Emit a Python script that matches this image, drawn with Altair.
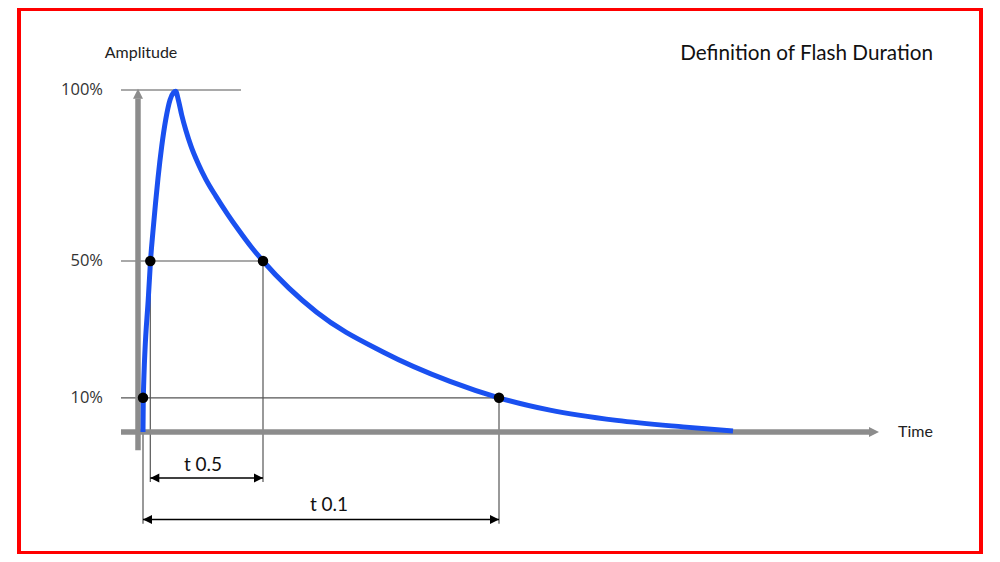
import altair as alt
import pandas as pd

# ---------------- data (time in arbitrary units, amplitude in %) ----------------
curve_t = [0, 0.3, 5.5, 7.5, 10, 12.5, 15, 18.7, 22.7, 27, 30.5, 32.7,
           35.5, 38.7, 43, 48, 55, 63, 73, 84.3, 96, 107.7, 120,
           173.7, 240, 307, 356, 407, 473.7, 540, 590]
curve_a = [0, 10, 40, 50, 58.8, 66.8, 74.2, 83.5, 91.3, 97.1, 99.2, 99.6,
           96.9, 92.7, 88.1, 83.6, 78.6, 73.8, 68.9, 63.8, 58.9, 54.3, 50,
           35.0, 23.4, 14.8, 10, 6.4, 3.4, 1.5, 0.3]

# marked points: rise 10%, rise 50%, fall 50%, fall 10%
dot_t = [0, 7.3, 120, 356]
dot_a = [10, 50, 50, 10]

level_values = [100, 50, 10]
level_labels = ["100%", "50%", "10%"]
level_end_t = [98, 120, 356]

dim_labels = ["t 0.5", "t 0.1"]
dim_start = [7.3, 0]
dim_end = [120, 356]
dim_level = [-13.45, -25.6]
dim_label_t = [60, 186]
dim_label_a = [-9.6, -21.3]

title_text = "Definition of Flash Duration"
y_title = "Amplitude"
x_title = "Time"

# ---------------- scales ----------------
X = alt.Scale(domain=[-135, 849], nice=False, zero=False)
Y = alt.Scale(domain=[-35.672, 123.977], nice=False, zero=False)
FONT = "Lato"
GRAY = "#8c8c8c"
THIN = "#555555"

def xe(f):
    return alt.X(f, type="quantitative", scale=X, axis=None)

def ye(f):
    return alt.Y(f, type="quantitative", scale=Y, axis=None)

# frame
frame = alt.Chart(pd.DataFrame({"k": [0]})).mark_rect(
    fill="white", stroke="#ff0000", strokeWidth=4
).encode(x=alt.value(11), x2=alt.value(973), y=alt.value(1), y2=alt.value(545))

# gray axes (shafts)
axes_df = pd.DataFrame({
    "x1": [-5, -22], "x2": [-5, 727],
    "y1": [-5.3, 0], "y2": [97.5, 0],
})
axes = alt.Chart(axes_df).mark_rule(color=GRAY, strokeWidth=5.5, strokeCap="butt").encode(
    x=xe("x1"), x2="x2", y=ye("y1"), y2="y2")

# gray arrow heads
up_head = alt.Chart(pd.DataFrame({"t": [-5], "a": [100.4]})).mark_point(
    shape="M0,0L-1,2L1,2Z", filled=True, color=GRAY, size=100, opacity=1, strokeWidth=0
).encode(x=xe("t"), y=ye("a"))
right_head = alt.Chart(pd.DataFrame({"t": [736], "a": [0]})).mark_point(
    shape="M0,0L-2,-1L-2,1Z", filled=True, color=GRAY, size=100, opacity=1, strokeWidth=0
).encode(x=xe("t"), y=ye("a"))

# thin reference lines
ref_rows = []
for lv, te in zip(level_values, level_end_t):
    ref_rows.append({"x1": -22, "x2": te, "y1": lv, "y2": lv})
for ts, te, lv in zip(dim_start, dim_end, dim_level):
    top_s = dot_a[dot_t.index(ts)]
    top_e = dot_a[dot_t.index(te)]
    ref_rows.append({"x1": ts, "x2": ts, "y1": top_s, "y2": lv - 1.2})
    ref_rows.append({"x1": te, "x2": te, "y1": top_e, "y2": lv - 1.2})
refs = alt.Chart(pd.DataFrame(ref_rows)).mark_rule(color=THIN, strokeWidth=1.2).encode(
    x=xe("x1"), x2="x2", y=ye("y1"), y2="y2")

# dimension lines
dim_df = pd.DataFrame({"x1": dim_start, "x2": dim_end, "y": dim_level})
dims = alt.Chart(dim_df).mark_rule(color="black", strokeWidth=1.4).encode(
    x=xe("x1"), x2="x2", y=ye("y"))
left_heads = alt.Chart(pd.DataFrame({"t": dim_start, "a": dim_level})).mark_point(
    shape="M0,0L2,-1L2,1Z", filled=True, color="black", size=81, opacity=1, strokeWidth=0
).encode(x=xe("t"), y=ye("a"))
right_heads = alt.Chart(pd.DataFrame({"t": dim_end, "a": dim_level})).mark_point(
    shape="M0,0L-2,-1L-2,1Z", filled=True, color="black", size=81, opacity=1, strokeWidth=0
).encode(x=xe("t"), y=ye("a"))

# curve
curve_df = pd.DataFrame({"t": curve_t, "a": curve_a, "o": list(range(len(curve_t)))})
curve = alt.Chart(curve_df).mark_line(
    color="#1a50f0", strokeWidth=5, strokeJoin="round", strokeCap="butt",
    interpolate="monotone"
).encode(x=xe("t"), y=ye("a"), order="o:Q")

# dots
dots = alt.Chart(pd.DataFrame({"t": dot_t, "a": dot_a})).mark_circle(
    color="black", size=110, opacity=1
).encode(x=xe("t"), y=ye("a"))

# level labels
lvl = alt.Chart(pd.DataFrame({"t": [-40] * 3, "a": level_values, "lab": level_labels})).mark_text(
    align="right", baseline="middle", font="Open Sans", fontSize=16.5, color="#333333"
).encode(x=xe("t"), y=ye("a"), text="lab:N")

# dimension labels
dlab = alt.Chart(pd.DataFrame({"t": dim_label_t, "a": dim_label_a, "lab": dim_labels})).mark_text(
    align="center", baseline="middle", font=FONT, fontSize=19, color="#111111"
).encode(x=xe("t"), y=ye("a"), text="lab:N")

# axis titles and chart title
amp = alt.Chart(pd.DataFrame({"t": [-2], "a": [110.8], "lab": [y_title]})).mark_text(
    align="center", baseline="middle", font=FONT, fontSize=16, color="#222222"
).encode(x=xe("t"), y=ye("a"), text="lab:N")
tim = alt.Chart(pd.DataFrame({"t": [755], "a": [0], "lab": [x_title]})).mark_text(
    align="left", baseline="middle", font=FONT, fontSize=16, color="#222222"
).encode(x=xe("t"), y=ye("a"), text="lab:N")
ttl = alt.Chart(pd.DataFrame({"t": [790], "a": [110.5], "lab": [title_text]})).mark_text(
    align="right", baseline="middle", font=FONT, fontSize=20.7, color="#111111"
).encode(x=xe("t"), y=ye("a"), text="lab:N")

chart = alt.layer(
    frame, refs, axes, up_head, right_head, dims, left_heads, right_heads,
    curve, dots, lvl, dlab, amp, tim, ttl
).properties(
    width=984, height=546, padding=0, autosize="none", background="white"
).configure_view(stroke=None)

chart.save("out.html", embed_options={"renderer": "svg", "actions": False})
